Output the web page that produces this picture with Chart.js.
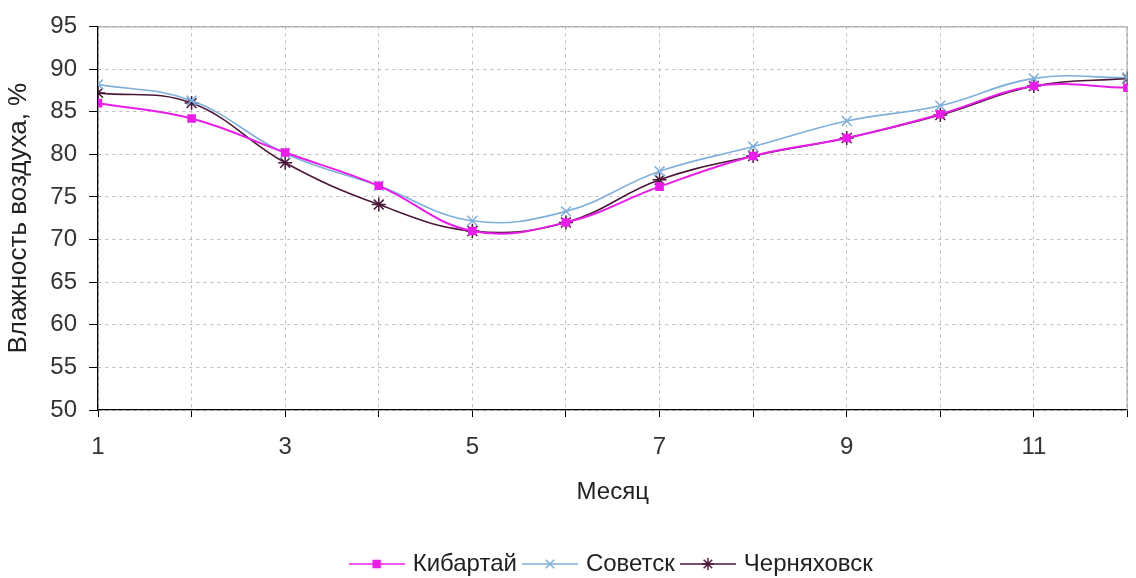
<!DOCTYPE html>
<html>
<head>
<meta charset="utf-8">
<script src="https://cdn.jsdelivr.net/npm/chart.js@4.4.0/dist/chart.umd.min.js"></script>
<style>
  html, body { margin: 0; padding: 0; background: #fff; }
  #wrap { width: 1136px; height: 578px; }
</style>
</head>
<body>
<div id="wrap"><canvas id="c"></canvas></div>
<script>
// month numbers and humidity, %
const months = [1, 2, 3, 4, 5, 6, 7, 8, 9, 10, 11, 12];
const kibartai = [86.0, 84.2, 80.2, 76.3, 71.0, 72.0, 76.2, 79.8, 81.9, 84.7, 88.0, 87.8];
const sovetsk = [88.2, 86.3, 80.1, 76.3, 72.2, 73.3, 78.0, 80.9, 83.9, 85.7, 88.9, 89.0];
const chernyakhovsk = [87.2, 86.0, 79.0, 74.1, 71.0, 72.0, 77.0, 79.8, 81.9, 84.6, 88.0, 88.9];
const seriesNames = ['Кибартай', 'Советск', 'Черняховск'];

const FONT = 'Liberation Sans, Arial, sans-serif';
const colors = ['#e81ee8', '#7fb0dc', '#4b1838'];
const styles = ['rect', 'crossRot', 'star'];

// little "line + marker" picture for the legend, like Excel does
function legendIcon(color, style) {
  const cv = document.createElement('canvas');
  cv.width = 56; cv.height = 16;
  const ctx = cv.getContext('2d');
  ctx.strokeStyle = color;
  ctx.lineWidth = 1.5;
  ctx.beginPath();
  ctx.moveTo(0, 8); ctx.lineTo(56, 8);
  ctx.stroke();
  ctx.fillStyle = color;
  Chart.helpers.drawPoint(ctx, { pointStyle: style, radius: style === 'rect' ? 5 : 6, borderWidth: 1.3, rotation: 0 }, 28, 8);
  if (style === 'rect') ctx.fill();
  return cv;
}

const pts = arr => months.map((m, i) => ({ x: m, y: arr[i] }));

const datasets = [kibartai, sovetsk, chernyakhovsk].map((arr, i) => ({
  label: seriesNames[i],
  data: pts(arr),
  borderColor: colors[i],
  backgroundColor: colors[i],
  borderWidth: i === 0 ? 2 : 1.6,
  tension: 0.4,
  pointStyle: styles[i],
  pointRadius: i === 0 ? 5 : 7,
  pointBorderWidth: 1.5,
  pointBackgroundColor: colors[i],
  pointBorderColor: colors[i]
}));

const frame = {
  id: 'frame',
  beforeDatasetsDraw(chart) {
    const a = chart.chartArea, ctx = chart.ctx;
    ctx.save();
    ctx.strokeStyle = '#9a9a9a';
    ctx.lineWidth = 1;
    ctx.beginPath();
    ctx.moveTo(a.left, a.top + 0.5); ctx.lineTo(a.right - 0.5, a.top + 0.5); ctx.lineTo(a.right - 0.5, a.bottom);
    ctx.stroke();
    ctx.restore();
  }
};

new Chart(document.getElementById('c'), {
  type: 'line',
  data: { datasets },
  plugins: [frame],
  options: {
    responsive: true,
    maintainAspectRatio: false,
    animation: false,
    layout: { padding: { top: 19, right: 0, left: 0, bottom: -8 } },
    plugins: {
      tooltip: { enabled: false },
      legend: {
        position: 'bottom',
        fullSize: false,
        labels: {
          usePointStyle: true,
          pointStyleWidth: 48,
          color: '#222',
          font: { family: FONT, size: 24 },
          padding: 9,
          generateLabels: chart => chart.data.datasets.map((ds, i) => ({
            text: ds.label,
            pointStyle: legendIcon(colors[i], styles[i]),
            fillStyle: colors[i],
            strokeStyle: colors[i],
            lineWidth: 0,
            hidden: false,
            datasetIndex: i,
            fontColor: '#222'
          }))
        }
      }
    },
    scales: {
      x: {
        type: 'linear',
        min: 1,
        max: 12,
        afterBuildTicks: s => { s.ticks = months.map(v => ({ value: v })); },
        ticks: {
          color: '#333',
          font: { family: FONT, size: 24 },
          padding: 16,
          maxRotation: 0,
          autoSkip: false,
          callback: v => (v % 2 === 1 ? String(v) : '')
        },
        grid: { color: '#bdbdbd', tickLength: 7, tickColor: '#000' },
        border: { color: '#000', width: 1.3, dash: [3, 4] },
        title: {
          display: true,
          text: 'Месяц',
          color: '#222',
          font: { family: FONT, size: 24 },
          padding: { top: 0, bottom: 36 }
        },
        afterFit: s => { s.height = 133; s.paddingRight = 0; }
      },
      y: {
        min: 50,
        max: 95,
        ticks: {
          stepSize: 5,
          color: '#333',
          font: { family: FONT, size: 24 },
          padding: 12
        },
        grid: { color: '#bdbdbd', tickLength: 9, tickColor: '#000' },
        border: { color: '#000', width: 1.3, dash: [3, 4] },
        title: {
          display: true,
          text: 'Влажность воздуха, %',
          color: '#222',
          font: { family: FONT, size: 26 },
          padding: { top: 3, bottom: 0 }
        },
        afterFit: s => { s.width = 98; }
      }
    }
  }
});
</script>
</body>
</html>
